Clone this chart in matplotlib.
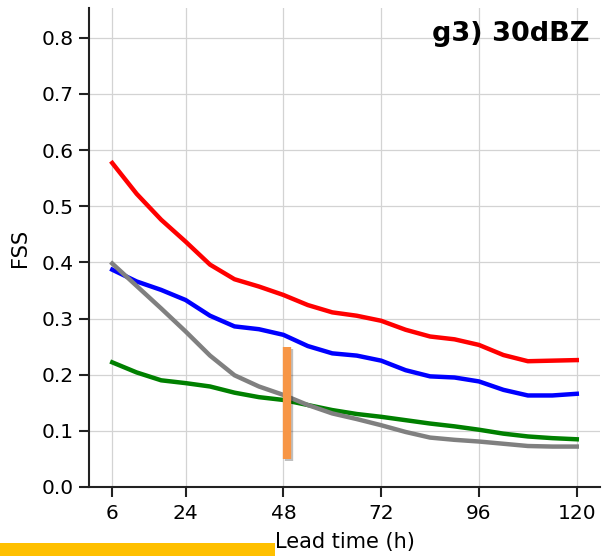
import matplotlib
matplotlib.use("Agg")
import matplotlib.pyplot as plt
import matplotlib.patheffects as pe
from matplotlib.patches import Rectangle

# Lead times (h) and FSS for each experiment at the 30 dBZ threshold
lead_time = [6, 12, 18, 24, 30, 36, 42, 48, 54, 60, 66, 72, 78, 84, 90, 96, 102, 108, 114, 120]
fss_red = [0.577, 0.522, 0.476, 0.437, 0.396, 0.370, 0.357, 0.342, 0.324, 0.311, 0.305, 0.296,
           0.280, 0.268, 0.263, 0.253, 0.235, 0.224, 0.225, 0.226]
fss_blue = [0.387, 0.366, 0.351, 0.333, 0.305, 0.286, 0.281, 0.271, 0.251, 0.238, 0.234, 0.225,
            0.208, 0.197, 0.195, 0.188, 0.173, 0.163, 0.163, 0.166]
fss_green = [0.222, 0.204, 0.190, 0.185, 0.179, 0.168, 0.160, 0.155, 0.146, 0.137, 0.130, 0.125,
             0.119, 0.113, 0.108, 0.102, 0.095, 0.090, 0.087, 0.085]
fss_gray = [0.398, 0.358, 0.318, 0.277, 0.234, 0.199, 0.179, 0.164, 0.146, 0.131, 0.121, 0.110,
            0.098, 0.088, 0.084, 0.081, 0.077, 0.073, 0.072, 0.072]

xticks = [6, 24, 48, 72, 96, 120]
yticks = [0.0, 0.1, 0.2, 0.3, 0.4, 0.5, 0.6, 0.7, 0.8]

# Highlight marker near 48 h
marker_x = 48.9
marker_y = (0.05, 0.25)

fig = plt.figure(figsize=(6.02, 5.56), dpi=100)
ax = fig.add_axes([89 / 602, 1 - 487 / 556, 511 / 602, 479 / 556])

for vals, col in [(fss_red, "red"), (fss_blue, "blue"), (fss_green, "green"), (fss_gray, "gray")]:
    ax.plot(lead_time, vals, color=col, lw=3.2, zorder=3)

ax.plot([marker_x, marker_x], marker_y, color="#F79646", lw=6, solid_capstyle="butt", zorder=4,
        path_effects=[pe.SimpleLineShadow(offset=(1.5, -1.5), alpha=0.25), pe.Normal()])

ax.set_xlim(0.3, 125.7)
ax.set_ylim(0, 0.853)
ax.set_xticks(xticks)
ax.set_yticks(yticks)
ax.set_yticklabels([f"{v:.1f}" for v in yticks])
ax.grid(True, color="#d3d3d3", lw=0.9)
ax.set_axisbelow(True)
for s in ["top", "right"]:
    ax.spines[s].set_visible(False)
for s in ["left", "bottom"]:
    ax.spines[s].set_linewidth(1.5)
    ax.spines[s].set_color("#222222")
ax.tick_params(labelsize=14.5, length=7, width=1.5, color="#222222", pad=4)
ax.tick_params(axis="x", pad=5.5)
ax.set_xlabel("Lead time (h)", fontsize=15, labelpad=6)
ax.set_ylabel("FSS", fontsize=15, labelpad=8)

ax.text(0.98, 0.972, "g3) 30dBZ", transform=ax.transAxes, ha="right", va="top",
        fontsize=19.5, fontweight="bold")

fig.patches.append(Rectangle((0, 0), 275 / 602, 13 / 556, transform=fig.transFigure,
                             facecolor="#FFC000", edgecolor="none", zorder=5))

fig.savefig("out.png", dpi=100)
